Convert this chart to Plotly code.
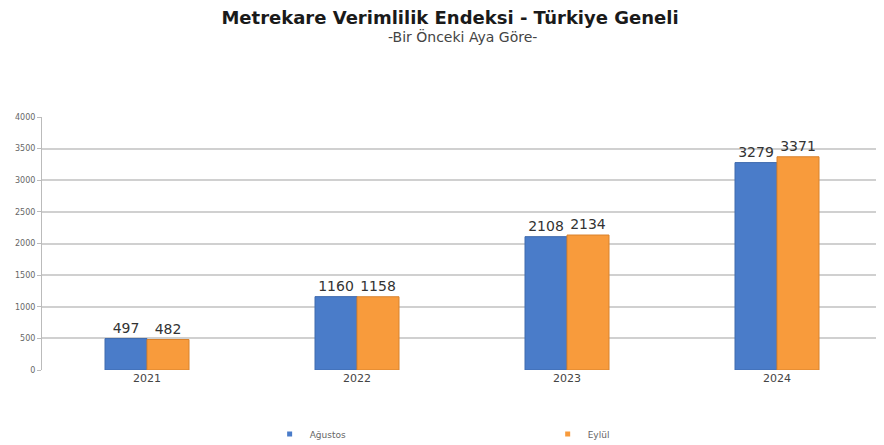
import plotly.graph_objects as go

years = ["2021", "2022", "2023", "2024"]
agustos = [497, 1160, 2108, 3279]
eylul = [482, 1158, 2134, 3371]
y_ticks = [0, 500, 1000, 1500, 2000, 2500, 3000, 3500, 4000]

BLUE = "#4A7CC9"
ORANGE = "#F89B3C"

fig = go.Figure()
fig.add_trace(go.Bar(
    x=years, y=agustos, name="Ağustos", showlegend=False,
    marker=dict(color=BLUE, line=dict(color="#3E6AAE", width=1)),
    text=[str(v) for v in agustos], textposition="outside",
    textfont=dict(size=14, color="#333333", family="DejaVu Sans"),
    cliponaxis=False,
))
fig.add_trace(go.Bar(
    x=years, y=eylul, name="Eylül", showlegend=False,
    marker=dict(color=ORANGE, line=dict(color="#D9822C", width=1)),
    text=[str(v) for v in eylul], textposition="outside",
    textfont=dict(size=14, color="#333333", family="DejaVu Sans"),
    cliponaxis=False,
))
# legend entries
fig.add_trace(go.Scatter(
    x=[None], y=[None], mode="markers", name="Ağustos", legend="legend",
    marker=dict(symbol="square", size=5, color=BLUE),
))
fig.add_trace(go.Scatter(
    x=[None], y=[None], mode="markers", name="Eylül", legend="legend2",
    marker=dict(symbol="square", size=5, color=ORANGE),
))

legend_common = dict(
    orientation="h", yanchor="middle", y=-0.253, xanchor="left",
    font=dict(family="DejaVu Sans", size=9, color="#666666"),
    itemwidth=30, bgcolor="rgba(0,0,0,0)",
)

# page body has an 8px offset, so margins are compensated
fig.update_layout(
    width=884, height=445,
    paper_bgcolor="white", plot_bgcolor="white",
    margin=dict(l=34, r=10, t=109, b=83, autoexpand=False),
    barmode="group", bargap=0.6, bargroupgap=0,
    title=dict(
        text="<b>Metrekare Verimlilik Endeksi - Türkiye Geneli</b>",
        x=0.5, xanchor="center", xref="container",
        y=0.9775, yanchor="middle", yref="container",
        font=dict(family="DejaVu Sans", size=18, color="#1a1a1a"),
    ),
    annotations=[dict(
        text="-Bir Önceki Aya Göre-", xref="paper", yref="paper",
        x=0.5, y=1.32, xanchor="center", yanchor="middle", showarrow=False,
        font=dict(family="DejaVu Sans", size=14, color="#444444"),
    )],
    xaxis=dict(
        showgrid=False, showline=False, ticks="", automargin=False,
        tickfont=dict(family="DejaVu Sans", size=11, color="#444444"),
    ),
    yaxis=dict(
        range=[0, 4000], tickvals=y_ticks, automargin=False,
        showgrid=True, gridcolor="#D0D0D0", gridwidth=2,
        showline=True, linecolor="#BBBBBB", linewidth=1,
        ticks="outside", ticklen=4, tickcolor="#BBBBBB",
        tickfont=dict(family="DejaVu Sans", size=8, color="#666666"),
        zeroline=False,
    ),
    legend=dict(x=0.271, **legend_common),
    legend2=dict(x=0.602, **legend_common),
    showlegend=True,
)

fig.write_html("out.html")
